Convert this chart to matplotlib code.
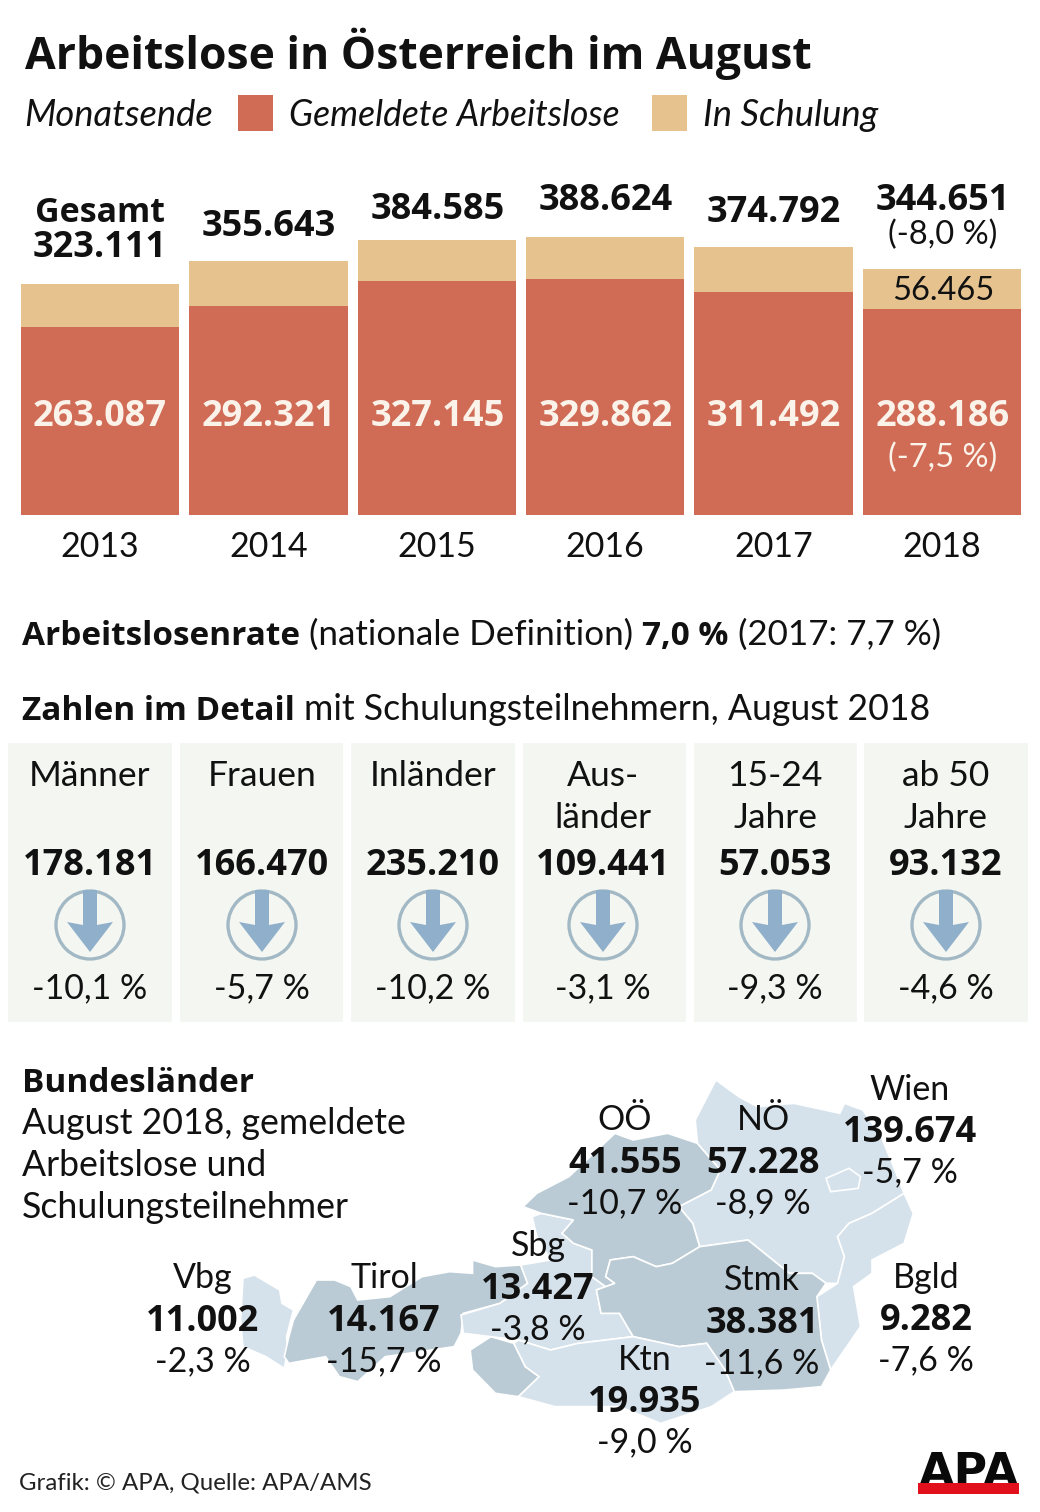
import matplotlib
matplotlib.use("Agg")
import matplotlib.pyplot as plt
from matplotlib.patches import Rectangle, Circle, Polygon

plt.rcParams['font.family'] = ['Lato', 'DejaVu Sans']

W, H = 1040, 1512
INK = '#111111'
RED = '#d06b55'
BEIGE = '#e6c28f'

# ---- data
years = ['2013', '2014', '2015', '2016', '2017', '2018']
gemeldet = [263087, 292321, 327145, 329862, 311492, 288186]
schulung = [60024, 63322, 57440, 58762, 63300, 56465]
gesamt_labels = ['323.111', '355.643', '384.585', '388.624', '374.792', '344.651']
gemeldet_labels = ['263.087', '292.321', '327.145', '329.862', '311.492', '288.186']

detail_names = ['Männer', 'Frauen', 'Inländer', 'Aus-\nländer', '15-24\nJahre', 'ab 50\nJahre']
detail_values = ['178.181', '166.470', '235.210', '109.441', '57.053', '93.132']
detail_changes = ['-10,1 %', '-5,7 %', '-10,2 %', '-3,1 %', '-9,3 %', '-4,6 %']

land_names = ['OÖ', 'NÖ', 'Wien', 'Sbg', 'Vbg', 'Tirol', 'Stmk', 'Bgld', 'Ktn']
land_values = ['41.555', '57.228', '139.674', '13.427', '11.002', '14.167', '38.381', '9.282', '19.935']
land_changes = ['-10,7 %', '-8,9 %', '-5,7 %', '-3,8 %', '-2,3 %', '-15,7 %', '-11,6 %', '-7,6 %', '-9,0 %']

fig = plt.figure(figsize=(W / 100, H / 100), dpi=100, facecolor='white')

# ---- overlay in pixel space
ov = fig.add_axes([0, 0, 1, 1], zorder=2)
ov.set_xlim(0, W)
ov.set_ylim(H, 0)
ov.axis('off')
ov.patch.set_alpha(0)

BOLD = ['Open Sans', 'DejaVu Sans']

def T(x, y, s, size, weight='normal', ha='center', color=INK, style='normal', va='center', **kw):
    if weight == 'bold':
        kw.setdefault('family', BOLD)
        if va == 'center':
            y = y + 4
    return ov.text(x, y, s, fontsize=size, fontweight=weight, ha=ha, va=va,
                   color=color, fontstyle=style, **kw)

# ---- bars
left, right, top, base = 16, 1026, 170, 515
ax = fig.add_axes([left / W, 1 - base / H, (right - left) / W, (base - top) / H], zorder=1)
xs = list(range(len(years)))
ax.bar(xs, gemeldet, width=0.94, color=RED)
ax.bar(xs, schulung, width=0.94, bottom=gemeldet, color=BEIGE)
ax.set_xlim(-0.5, 5.5)
ax.set_ylim(0, 345 * 1399)
ax.set_yticks([])
ax.set_xticks(xs, years, fontsize=24.5, color=INK)
ax.tick_params(axis='x', length=0, pad=11.5)
for s in ax.spines.values():
    s.set_visible(False)
ax.patch.set_alpha(0)

# header
T(25, 50, 'Arbeitslose in Österreich im August', 32, 'bold', ha='left')
T(24, 115.5, 'Monatsende', 26.2, ha='left', style='italic')
ov.add_patch(Rectangle((238, 95), 35, 36, color=RED, lw=0))
T(289, 115.5, 'Gemeldete Arbeitslose', 25.6, ha='left', style='italic')
ov.add_patch(Rectangle((652, 95), 35, 36, color=BEIGE, lw=0))
T(703, 115.5, 'In Schulung', 26.2, ha='left', style='italic')

# bar labels
centres = [100, 269, 437.5, 605.5, 774, 943]
tops = [244, 223, 206, 197, 209, 197]
for c, y, lab, g in zip(centres, tops, gesamt_labels, gemeldet_labels):
    T(c, y, lab, 26, 'bold')
    T(c, 413, g, 26, 'bold', color='#fbf3ea')
T(100, 209, 'Gesamt', 24.5, 'bold')
T(943, 234.5, '(-8,0 %)', 23.5)
T(943, 291, '56.465', 23.5)
T(943, 458, '(-7,5 %)', 23.5, color='#fbf3ea')

# text runs sharing a baseline
def run(x, y, parts, size, bsize):
    for s, w in parts:
        t = T(x, y, s, bsize if w == 'bold' else size, w, ha='left', va='baseline')
        bb = t.get_window_extent(fig.canvas.get_renderer())
        x = bb.x1 + 9

run(22, 645, [('Arbeitslosenrate', 'bold'), ('(nationale Definition)', 'normal'),
              ('7,0 %', 'bold'), ('(2017: 7,7 %)', 'normal')], 25.2, 24)
run(22, 720, [('Zahlen im Detail', 'bold'), ('mit Schulungsteilnehmern, August 2018', 'normal')], 25.7, 24)

# detail panels
panels = [(8, 172), (180, 343), (351, 515), (523, 686), (694, 857), (864, 1028)]
dcent = [90, 262, 433, 603, 775, 946]
for (a, b), c, n, v, d in zip(panels, dcent, detail_names, detail_values, detail_changes):
    ov.add_patch(Rectangle((a, 743), b - a, 279, color='#f4f6f1', lw=0, zorder=0))
    lines = n.split('\n')
    for i, l in enumerate(lines):
        T(c, 776 + 42 * i, l, 25.5)
    T(c, 862, v, 26, 'bold')
    T(c, 988, d, 24.5)
    ov.add_patch(Circle((c, 925), 34, fc='none', ec='#a2b9c5', lw=2.4, zorder=1))
    arrow = [(c - 7, 890), (c + 7, 890), (c + 7, 925), (c + 23, 922), (c, 952), (c - 23, 922), (c - 7, 925)]
    ov.add_patch(Polygon(arrow, closed=True, fc='#8fafca', ec='none', zorder=2))

# Bundesländer text
T(22, 1080, 'Bundesländer', 24, 'bold', ha='left')
for i, l in enumerate(['August 2018, gemeldete', 'Arbeitslose und', 'Schulungsteilnehmer']):
    T(22, 1123 + 42 * i, l, 25.7, ha='left')

def P(pts):
    return [(220 + x / 2.178, 1070 + y / 3) for x, y in pts]

DARK, LIGHT = '#bacbd5', '#d6e2eb'
regions = [
    (LIGHT, [(50, 625), (75, 615), (130, 660), (135, 700), (160, 720), (145, 800), (148, 840), (140, 895), (100, 860), (50, 830), (45, 750)]),
    (DARK, [(160, 750), (210, 630), (250, 630), (285, 650), (300, 690), (370, 680), (440, 620), (500, 605), (550, 610), (550, 570), (600, 590), (655, 585), (670, 640), (610, 700), (530, 730), (525, 790), (510, 830), (360, 860), (300, 935), (260, 920), (230, 860), (150, 880), (140, 860), (150, 800)]),
    (DARK, [(545, 840), (590, 800), (640, 820), (665, 890), (695, 920), (650, 980), (600, 970), (550, 900)]),
    (LIGHT, [(525, 735), (610, 700), (670, 640), (655, 585), (720, 570), (690, 500), (680, 440), (700, 430), (770, 450), (745, 490), (770, 520), (810, 540), (810, 620), (840, 650), (820, 660), (830, 730), (870, 730), (900, 800), (780, 820), (720, 840), (650, 810), (590, 800), (530, 790)]),
    (DARK, [(660, 410), (690, 370), (760, 320), (860, 190), (900, 210), (975, 190), (1040, 220), (1090, 300), (1070, 360), (1000, 410), (1030, 460), (1045, 530), (985, 580), (950, 590), (900, 560), (850, 570), (840, 620), (860, 640), (840, 650), (810, 620), (810, 540), (770, 520), (745, 490), (770, 450), (700, 430)]),
    (LIGHT, [(1040, 220), (1035, 150), (1080, 30), (1130, 80), (1170, 110), (1250, 100), (1350, 130), (1360, 100), (1400, 120), (1440, 200), (1470, 300), (1490, 370), (1420, 430), (1370, 460), (1345, 500), (1360, 560), (1345, 640), (1320, 640), (1290, 610), (1240, 610), (1150, 510), (1045, 530), (1030, 460), (1000, 410), (1070, 360), (1090, 300)]),
    (LIGHT, [(1320, 325), (1370, 295), (1395, 320), (1390, 355), (1330, 365)]),
    (LIGHT, [(1490, 370), (1510, 430), (1490, 520), (1420, 570), (1420, 610), (1380, 650), (1395, 770), (1330, 900), (1310, 810), (1300, 680), (1345, 640), (1360, 560), (1345, 500), (1370, 460), (1420, 430)]),
    (DARK, [(850, 570), (900, 560), (950, 590), (985, 580), (1045, 530), (1150, 510), (1240, 610), (1290, 610), (1320, 640), (1300, 680), (1310, 810), (1330, 900), (1310, 950), (1230, 960), (1120, 965), (1100, 900), (1060, 820), (1000, 830), (900, 800), (870, 730), (830, 730), (820, 660), (860, 640), (840, 620)]),
    (LIGHT, [(650, 810), (720, 840), (780, 820), (900, 800), (1000, 830), (1060, 820), (1100, 900), (1120, 965), (1070, 1010), (960, 1060), (870, 1010), (730, 1010), (650, 980), (695, 920), (665, 890), (640, 820)]),
]
for col, pts in regions:
    ov.add_patch(Polygon(P(pts), closed=True, fc=col, ec='white', lw=1.2, zorder=0))

# Land labels
land_x = [625, 763, 910, 538, 203, 384, 762, 926, 645]
land_y = [1119, 1119, 1088, 1245, 1277, 1277, 1279, 1276, 1358]
for x, y, n, v, d in zip(land_x, land_y, land_names, land_values, land_changes):
    T(x, y + 1.5, n, 24.5)
    T(x, y + 41, v, 26, 'bold')
    T(x, y + 84, d, 24.5)

# footer
T(19, 1483, 'Grafik: © APA, Quelle: APA/AMS', 17.3, ha='left', color='#222222')
ov.text(968.5, 1486, 'APA', fontsize=33, fontweight='bold', family='DejaVu Sans', ha='center',
        va='baseline', color='#0a0a0a', zorder=3)
ov.add_patch(Rectangle((918, 1483), 101, 11, color='#e2101c', lw=0, zorder=4))

fig.savefig('out.png', dpi=100, facecolor='white')
